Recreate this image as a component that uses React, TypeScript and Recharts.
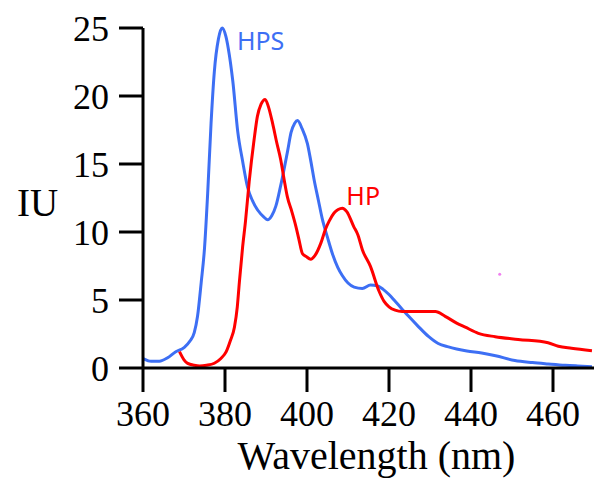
import React from 'react';
import { LineChart, Line, XAxis, YAxis, ReferenceDot } from 'recharts';

// HPS spectrum (blue)
const hpsWavelength = [
  360, 362, 364, 366, 368, 370, 371.5, 372.5, 373.3, 374.2, 375, 375.8, 376.6, 377.4, 378.4,
  379.3, 380.2, 380.8, 381.9, 383.1, 384.3, 385.5, 386.7, 388, 389.5, 390.4, 391.4, 392.4,
  393.5, 394.4, 395.3, 396.1, 397, 397.7, 398.8, 400.1, 401, 401.7, 402.8, 403.7, 405, 406.2,
  407.5, 408.6, 410, 411.5, 413.5, 415.5, 417.1, 418.5, 420, 421.5, 423, 424.8, 427, 429.7,
  432, 434.5, 436.5, 439, 442.6, 446, 450.7, 455, 458.8, 463, 466, 469.5,
];
const hpsIntensity = [
  0.7, 0.5, 0.5, 0.75, 1.2, 1.5, 2.0, 2.6, 3.8, 6.3, 8.8, 13.0, 18.0, 21.8, 24.2,
  25.0, 24.4, 23.5, 21.1, 17.4, 15.2, 13.3, 12.3, 11.6, 11.1, 10.9, 11.2, 11.9,
  13.3, 14.6, 16.0, 17.3, 18.0, 18.2, 17.6, 16.5, 15.1, 13.9, 12.3, 11.0, 9.6, 8.4,
  7.4, 6.8, 6.25, 5.95, 5.85, 6.1, 6.05, 5.8, 5.4, 4.9, 4.4, 3.8, 3.1, 2.3,
  1.8, 1.55, 1.4, 1.25, 1.1, 0.9, 0.55, 0.4, 0.3, 0.2, 0.15, 0.1,
];

// HP spectrum (red)
const hpWavelength = [
  368.9, 370, 370.9, 372.5, 373.8, 375.5, 377.4, 379, 380.3, 381.3, 382.3, 383, 383.5, 384.3,
  385, 385.9, 387.1, 387.9, 388.8, 389.8, 390.6, 391.6, 392.6, 393.6, 394.4, 395.2, 396.3,
  397.3, 398, 398.9, 399.8, 400.9, 402, 403.4, 404.5, 405.4, 406.6, 407.6, 408.6, 409.7,
  411.4, 412.4, 413.5, 415.5, 417.5, 418.8, 420, 421.5, 423.2, 427, 431.3, 433.7, 436.5,
  438.6, 441.8, 445.9, 451.5, 458.8, 461.3, 464.5, 469.5,
];
const hpIntensity = [
  1.2, 0.6, 0.34, 0.2, 0.15, 0.2, 0.35, 0.7, 1.2, 2.0, 3.0, 4.5, 6.3, 8.9,
  10.8, 13.7, 16.8, 18.5, 19.4, 19.75, 19.2, 18.0, 16.6, 15.3, 13.9, 12.6, 11.5,
  10.4, 9.5, 8.4, 8.2, 8.0, 8.3, 9.2, 10.2, 10.8, 11.4, 11.65, 11.75, 11.5,
  10.4, 9.8, 8.7, 7.45, 5.7, 4.9, 4.5, 4.25, 4.15, 4.15, 4.15, 3.8, 3.3,
  3.0, 2.55, 2.3, 2.1, 1.86, 1.6, 1.45, 1.27,
];

const xTicks = [360, 380, 400, 420, 440, 460];
const yTicks = [0, 5, 10, 15, 20, 25];

const HPS_COLOR = '#3d6ff4';
const HP_COLOR = '#ff0000';
const SERIF = '"Liberation Serif", "Times New Roman", serif';
const SANS = '"Noto Sans", "Open Sans", sans-serif';

const toPoints = (xs: number[], ys: number[]) => xs.map((x, i) => ({ x, y: ys[i] }));

const seriesLabel = (text: string, color: string) => (props: any) => {
  const vb = props.viewBox || {};
  return (
    <text x={vb.x} y={vb.y} fill={color} fontFamily={SANS} fontSize={25} textAnchor="start">
      {text}
    </text>
  );
};

export default function App() {
  const hps = React.useMemo(() => toPoints(hpsWavelength, hpsIntensity), []);
  const hp = React.useMemo(() => toPoints(hpWavelength, hpIntensity), []);

  return (
    <div style={{ position: 'absolute', left: 0, top: 0, width: 594, height: 483, background: '#fff' }}>
      <LineChart width={594} height={483} margin={{ top: 28, right: 0, bottom: 0, left: 0 }}>
        <XAxis
          type="number"
          dataKey="x"
          domain={[360, 470]}
          ticks={xTicks}
          allowDataOverflow
          height={115}
          stroke="#000"
          strokeWidth={3}
          tickSize={24}
          tickMargin={8}
          tick={{ fill: '#000', fontSize: 36, fontFamily: SERIF }}
          label={(props: any) => {
            const vb = props.viewBox || {};
            return (
              <text x={vb.x + vb.width / 2 + 8} y={vb.y + 101} textAnchor="middle" fill="#000" fontFamily={SERIF} fontSize={40}>
                Wavelength (nm)
              </text>
            );
          }}
        />
        <YAxis
          type="number"
          domain={[0, 25]}
          ticks={yTicks}
          width={143}
          stroke="#000"
          strokeWidth={3}
          tickSize={24}
          tickMargin={10}
          tick={{ fill: '#000', fontSize: 36, fontFamily: SERIF }}
          label={(props: any) => {
            const vb = props.viewBox || {};
            return (
              <text x={vb.x + 17} y={vb.y + vb.height / 2 + 18} textAnchor="start" fill="#000" fontFamily={SERIF} fontSize={39}>
                IU
              </text>
            );
          }}
        />
        <Line
          data={hps}
          dataKey="y"
          type="monotone"
          stroke={HPS_COLOR}
          strokeWidth={3}
          dot={false}
          isAnimationActive={false}
        />
        <Line
          data={hp}
          dataKey="y"
          type="monotone"
          stroke={HP_COLOR}
          strokeWidth={3}
          dot={false}
          isAnimationActive={false}
        />
        <ReferenceDot x={382.9} y={23.4} r={0} fill="none" stroke="none" label={seriesLabel('HPS', HPS_COLOR)} />
        <ReferenceDot x={409.6} y={12.0} r={0} fill="none" stroke="none" label={seriesLabel('HP', HP_COLOR)} />
        <ReferenceDot x={447} y={6.9} r={1.5} fill="#f080f0" stroke="none" />
      </LineChart>
    </div>
  );
}
